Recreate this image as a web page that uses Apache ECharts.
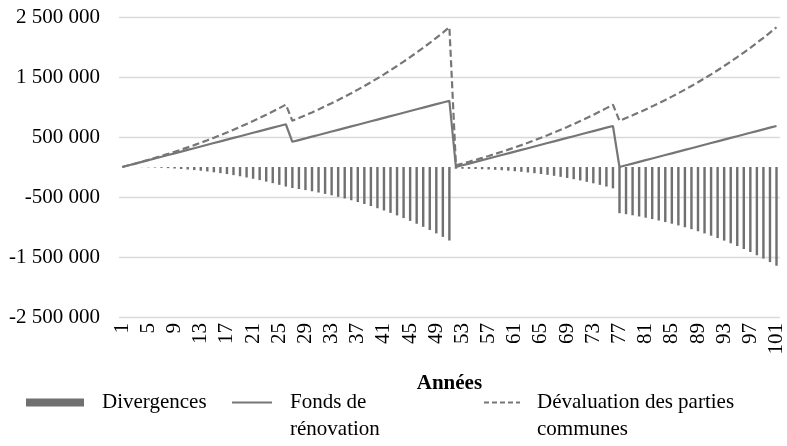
<!DOCTYPE html>
<html>
<head>
<meta charset="utf-8">
<script src="https://cdn.jsdelivr.net/npm/echarts@6/dist/echarts.min.js"></script>
<style>
html,body{margin:0;padding:0;background:#fff;}
#chart{width:787px;height:446px;}
</style>
</head>
<body>
<div id="chart"></div>
<script>
var years = [];
for (var i = 1; i <= 101; i++) years.push(String(i));

var fondsRenovation = [
  0, 28500, 57000, 85500, 114000, 142500, 171000, 199500, 228000, 256500,
  285000, 313500, 342000, 370500, 399000, 427500, 456000, 484500, 513000, 541500,
  570000, 598500, 627000, 655500, 684000, 712500,
  420000, 448500, 477000, 505500, 534000, 562500, 591000, 619500, 648000, 676500,
  705000, 733500, 762000, 790500, 819000, 847500, 876000, 904500, 933000, 961500,
  990000, 1018500, 1047000, 1075500, 1104000,
  0, 28500, 57000, 85500, 114000, 142500, 171000, 199500, 228000, 256500,
  285000, 313500, 342000, 370500, 399000, 427500, 456000, 484500, 513000, 541500,
  570000, 598500, 627000, 655500, 684000,
  0, 28500, 57000, 85500, 114000, 142500, 171000, 199500, 228000, 256500,
  285000, 313500, 342000, 370500, 399000, 427500, 456000, 484500, 513000, 541500,
  570000, 598500, 627000, 655500, 684000
];

var devaluation = [
  0, 28500, 57900, 88100, 119200, 151300, 184300, 218400, 253400, 289500,
  326700, 365000, 404500, 445100, 487000, 530100, 574500, 620200, 667300, 715800,
  765800, 817300, 870300, 924900, 981200, 1039100,
  770000, 815300, 862000, 910000, 959500, 1010500, 1063000, 1117100, 1172800, 1230200,
  1289300, 1350200, 1412900, 1477500, 1544000, 1612500, 1683100, 1755800, 1830700, 1907800,
  1987200, 2069000, 2153300, 2240100, 2329500,
  28500, 57900, 88100, 119200, 151300, 184300, 218400, 253400, 289500, 326700,
  365000, 404500, 445100, 487000, 530100, 574500, 620200, 667300, 715800, 765800,
  817300, 870300, 924900, 981200, 1039100,
  770000, 815300, 862000, 910000, 959500, 1010500, 1063000, 1117100, 1172800, 1230200,
  1289300, 1350200, 1412900, 1477500, 1544000, 1612500, 1683100, 1755800, 1830700, 1907800,
  1987200, 2069000, 2153300, 2240100, 2329500
];

var divergences = [
  0, 0, -900, -2600, -5200, -8800, -13300, -18900, -25400, -33000,
  -41700, -51500, -62500, -74600, -88000, -102600, -118500, -135700, -154300, -174300,
  -195800, -218800, -243300, -269400, -297200, -326600,
  -350000, -366800, -385000, -404500, -425500, -448000, -472000, -497600, -524800, -553700,
  -584300, -616700, -650900, -687000, -725000, -765000, -807100, -851300, -897700, -946300,
  -997200, -1050500, -1106300, -1164600, -1225500,
  -28500, -29400, -31100, -33700, -37300, -41800, -47400, -53900, -61500, -70200,
  -80000, -91000, -103100, -116500, -131100, -147000, -164200, -182800, -202800, -224300,
  -247300, -271800, -297900, -325700, -355100,
  -770000, -786800, -805000, -824500, -845500, -868000, -892000, -917600, -944800, -973700,
  -1004300, -1036700, -1070900, -1107000, -1145000, -1185000, -1227100, -1271300, -1317700, -1366300,
  -1417200, -1470500, -1526300, -1584600, -1645500
];

var seriesNames = ['Divergences', 'Fonds de rénovation', 'Dévaluation des parties communes'];
var legendLabels = ['Divergences', '\nFonds de\nrénovation', '\nDévaluation des parties\ncommunes'];
var axisTitle = 'Années';

var FONT = "'Liberation Serif', 'Times New Roman', serif";
var GREY = '#767676';

function fmt(v) {
  var s = String(Math.abs(v)).replace(/\B(?=(\d{3})+(?!\d))/g, ' ');
  return (v < 0 ? '-' : '') + s;
}

var chart = echarts.init(document.getElementById('chart'), null, {renderer: 'canvas'});
var legendText = {fontFamily: FONT, fontSize: 21, color: '#000', lineHeight: 27};
var dashIcon = 'path://M0,0h5v2h-5z M8,0h5v2h-5z M16,0h5v2h-5z M24,0h5v2h-5z M32,0h4v2h-4z';

chart.setOption({
  animation: false,
  backgroundColor: '#fff',
  textStyle: {fontFamily: FONT},
  grid: {left: 119, right: 6, top: 17, bottom: 129},
  legend: [
    {data: [seriesNames[0]], left: 26, top: 389, padding: 0, itemWidth: 58, itemHeight: 8, icon: 'rect',
     formatter: function () { return legendLabels[0]; },
     textStyle: Object.assign({padding: [0, 0, 0, 13]}, legendText)},
    {data: [seriesNames[1]], left: 232, top: 362, padding: 0, itemWidth: 40, itemHeight: 2, icon: 'rect',
     formatter: function () { return legendLabels[1]; },
     textStyle: Object.assign({padding: [0, 0, 0, 13]}, legendText)},
    {data: [seriesNames[2]], left: 484, top: 362, padding: 0, itemWidth: 36, itemHeight: 2, icon: dashIcon,
     formatter: function () { return legendLabels[2]; },
     textStyle: Object.assign({padding: [0, 0, 0, 12]}, legendText)}
  ],
  xAxis: {
    type: 'category',
    data: years,
    boundaryGap: true,
    name: axisTitle,
    nameLocation: 'middle',
    nameGap: 56,
    nameTextStyle: {fontFamily: FONT, fontSize: 21, fontWeight: 'bold', color: '#000'},
    axisLine: {show: false, onZero: false},
    axisTick: {show: false},
    axisLabel: {interval: 3, rotate: 90, fontFamily: FONT, fontSize: 21, color: '#000', margin: 6},
    splitLine: {show: false}
  },
  yAxis: {
    type: 'value',
    min: -2500000,
    max: 2500000,
    interval: 1000000,
    axisLine: {show: false},
    axisTick: {show: false},
    axisLabel: {formatter: fmt, fontFamily: FONT, fontSize: 21, color: '#000', margin: 19},
    splitLine: {lineStyle: {color: '#d9d9d9', width: 1.3}}
  },
  series: [
    {name: seriesNames[0], type: 'bar', data: divergences, barWidth: '37%',
     itemStyle: {color: '#707070'}},
    {name: seriesNames[1], type: 'line', data: fondsRenovation, symbol: 'none', showSymbol: false,
     itemStyle: {color: GREY}, lineStyle: {color: GREY, width: 2.2}},
    {name: seriesNames[2], type: 'line', data: devaluation, symbol: 'none', showSymbol: false,
     itemStyle: {color: GREY}, lineStyle: {color: GREY, width: 2.2, type: [7, 3.5]}}
  ]
});
</script>
</body>
</html>
